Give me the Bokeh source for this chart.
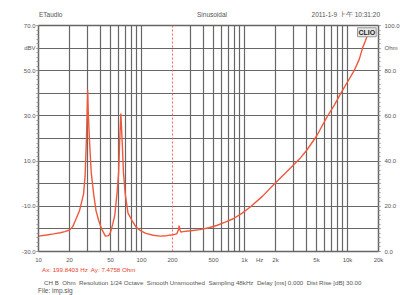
from bokeh.plotting import figure
from bokeh.models import (Range1d, LinearAxis, FixedTicker, Span, Label, Div)
from bokeh.layouts import column
from bokeh.embed import file_html
from bokeh.resources import INLINE

# ---- data (impedance curve, Ohm vs Hz) ----
freq = [10, 12, 14, 16.3, 18, 20, 21.5, 22.8, 25, 27.4, 28.3, 29.1, 29.6, 30.0,
        30.5, 31.4, 32.5, 34.3, 36.2, 38.4, 41, 44.6, 48, 50, 52.5, 55, 57.8,
        60, 61.3, 62.3, 63, 63.8, 65.1, 66.8, 69.5, 74, 80.9, 88, 97, 110, 130,
        152, 175, 200, 220, 228, 232, 236, 242, 253, 300, 370, 450, 537, 650,
        778, 950, 1130, 1500, 1957, 2600, 3434, 4000, 5000, 6300, 7500, 8600,
        10000, 11600, 13000, 14000, 15000, 16000]
ohm = [6.8, 7.3, 7.8, 8.3, 8.8, 9.5, 11.0, 13.7, 18.0, 25.5, 33.0, 47.6, 60.0,
       71.6, 60.0, 47.6, 35.0, 25.5, 18.0, 13.7, 10.0, 6.8, 7.0, 8.5, 12.0,
       16.0, 25.5, 35.0, 47.6, 56.0, 61.0, 56.0, 47.6, 35.0, 25.5, 17.0, 13.7,
       11.0, 9.3, 8.0, 7.2, 6.8, 7.0, 7.4, 7.8, 9.5, 11.5, 9.5, 8.6, 8.8, 9.2,
       9.7, 10.5, 11.5, 13.0, 14.5, 17.0, 19.6, 24.5, 30.0, 35.5, 41.0, 44.7,
       51.0, 59.4, 65.0, 70.0, 75.0, 80.0, 85.0, 90.0, 93.5, 97.0]

x_tick_vals = [10, 20, 50, 100, 200, 500, 1000, 1400, 2000, 5000, 10000, 20000]
x_tick_text = ["10", "20", "50", "100", "200", "500", "1k", "Hz", "2k", "5k", "10k", "20k"]
x_grid_vals = [20, 30, 40, 50, 60, 70, 80, 90, 100,
               300, 400, 500, 600, 700, 800, 900, 1000,
               2000, 3000, 4000, 5000, 6000, 7000, 8000, 9000, 10000]
db_ticks = [70, 60, 50, 40, 30, 20, 10, 0, -10, -20, -30]
db_text = ["70.0", "dBV", "50.0", "", "30.0", "", "10.0", "", "-10.0", "", "-30.0"]
ohm_ticks = [100, 90, 80, 70, 60, 50, 40, 30, 20, 10, 0]
ohm_text = ["100.0", "Ohm", "80.0", "", "60.0", "", "40.0", "", "20.0", "", "0.0"]

cursor_hz = 199.8403
cursor_text = "Ax: 199.8403 Hz  Ay: 7.4758 Ohm"
header_left = "ETaudio"
header_mid = "Sinusoidal"
header_right = "2011-1-9 上午 10:31:20"
footer = ("CH B  Ohm  Resolution 1/24 Octave  Smooth Unsmoothed  Sampling 48kHz"
          "  Delay [ms] 0.000  Dist Rise [dB] 30.00")
file_text = "File: imp.sig"

FONT = "Liberation Sans"
GREY = "#555555"
W = 404

p = figure(width=W, height=248, x_axis_type="log",
           x_range=Range1d(10, 20000), y_range=Range1d(-30, 70),
           output_backend="svg", toolbar_location=None,
           min_border_left=38, min_border_right=26,
           min_border_top=8, min_border_bottom=14, margin=0)
p.extra_y_ranges = {"ohm": Range1d(0, 100)}
p.background_fill_color = "white"
p.border_fill_color = "white"
p.outline_line_color = "#666666"
p.outline_line_width = 1.5

# grids
p.xgrid.ticker = FixedTicker(ticks=x_grid_vals)
p.ygrid.ticker = FixedTicker(ticks=list(range(-30, 71, 10)))
for g in (p.xgrid, p.ygrid):
    g.grid_line_color = "#666666"
    g.grid_line_width = 1.2
    g.grid_line_alpha = 1.0

# bottom axis
xa = p.xaxis[0]
xa.ticker = FixedTicker(ticks=x_tick_vals)
xa.major_label_overrides = {v: t for v, t in zip(x_tick_vals, x_tick_text)}
xa.axis_line_color = None
xa.major_tick_line_color = None
xa.minor_tick_line_color = None
xa.major_tick_out = 0
xa.major_label_standoff = 5

# left axis
ya = p.yaxis[0]
ya.ticker = FixedTicker(ticks=db_ticks, minor_ticks=list(range(-30, 71, 2)))
ya.major_label_overrides = {v: t for v, t in zip(db_ticks, db_text)}
ya.major_label_standoff = 1

# right axis
ra = LinearAxis(y_range_name="ohm")
ra.ticker = FixedTicker(ticks=ohm_ticks, minor_ticks=list(range(0, 101, 2)))
ra.major_label_overrides = {v: t for v, t in zip(ohm_ticks, ohm_text)}
ra.major_label_standoff = 4
p.add_layout(ra, "right")

for ax in (ya, ra):
    ax.axis_line_color = "#666666"
    ax.axis_line_width = 1.0
    ax.major_tick_line_color = "#888888"
    ax.major_tick_out = 2
    ax.major_tick_in = 0
    ax.minor_tick_line_color = "#999999"
    ax.minor_tick_out = 2
    ax.minor_tick_in = 0

for ax in (xa, ya, ra):
    ax.major_label_text_font = FONT
    ax.major_label_text_font_size = "6px"
    ax.major_label_text_color = GREY

# cursor line
p.add_layout(Span(location=cursor_hz, dimension="height", line_color="#ff5a5a",
                  line_dash="2 2", line_width=1))

# curve
p.line(freq, ohm, y_range_name="ohm", line_color="#f0583a", line_width=1.4)

# CLIO badge
p.add_layout(Label(x=19000, y=69, text="CLIO", text_align="right",
                   text_baseline="top", text_font=FONT, text_font_style="bold",
                   text_font_size="7px", text_color="#222222",
                   background_fill_color="#e6e6e6", border_line_color="#999999",
                   padding=1))

base = (f"position:absolute;white-space:pre;font-family:'{FONT}';"
        f"font-size:6.5px;line-height:8px;color:{GREY};")
header = Div(width=W, height=17, margin=0, styles={"overflow": "hidden"}, text=(
    f'<div style="position:relative;width:{W}px;height:17px;">'
    f'<span style="{base}left:39px;top:11px;">{header_left}</span>'
    f'<span style="{base}left:212px;top:11px;transform:translateX(-50%);">{header_mid}</span>'
    f'<span style="{base}right:24px;top:11px;">{header_right}</span>'
    '</div>'))
footer_div = Div(width=W, height=30, margin=0, styles={"overflow": "hidden"}, text=(
    f'<div style="position:relative;width:{W}px;height:30px;">'
    f'<span style="{base}left:42px;top:1px;font-size:6.2px;color:#e8402a;">{cursor_text}</span>'
    f'<span style="{base}left:44px;top:14px;font-size:6.2px;">{footer}</span>'
    f'<span style="{base}left:38px;top:22px;">{file_text}</span>'
    '</div>'))

layout = column(header, p, footer_div, spacing=0, margin=0)
open("out.html", "w").write(file_html(layout, INLINE))
